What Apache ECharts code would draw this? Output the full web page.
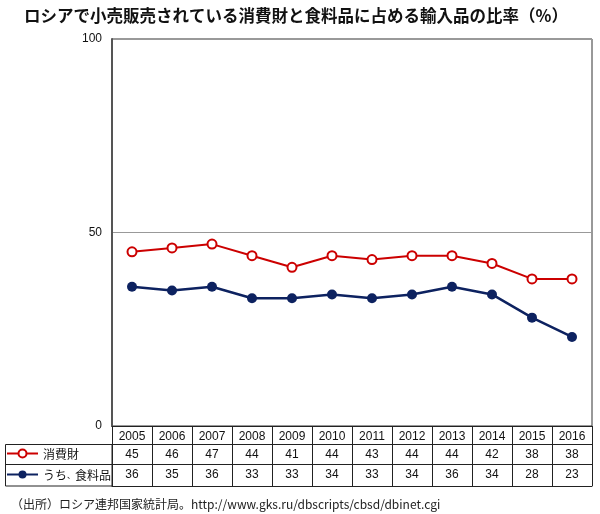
<!DOCTYPE html>
<html><head><meta charset="utf-8">
<script src="https://cdn.jsdelivr.net/npm/echarts@6/dist/echarts.min.js"></script>
<style>html,body{margin:0;padding:0;background:#fff}#c{width:600px;height:514px}</style>
</head><body><div id="c"></div>
<script>
const years = ['2005','2006','2007','2008','2009','2010','2011','2012','2013','2014','2015','2016'];
const consumerGoods = [45,46,47,44,41,44,43,44,44,42,38,38];
const foodProducts = [36,35,36,33,33,34,33,34,36,34,28,23];
const seriesNames = ['消費財','うち、食料品'];
const yTicks = [0,50,100];
const titleText = 'ロシアで小売販売されている消費財と食料品に占める輸入品の比率（%）';
const sourceText = '（出所）ロシア連邦国家統計局。http://www.gks.ru/dbscripts/cbsd/dbinet.cgi';

const JP = '"Noto Sans CJK JP", sans-serif';
const NUM = '"Liberation Sans", Arial, sans-serif';
const chart = echarts.init(document.getElementById('c'), null, {renderer:'canvas'});
const tableLine = {show:true, lineStyle:{color:'#222', width:1}};
function rowAxis(offset, values) {
  return {
    type:'category', data: years, position:'bottom', offset: offset, gridIndex:0,
    axisLine: tableLine, axisTick:{show:false},
    axisLabel:{show: !!values, margin: 5, fontSize:12, color:'#111', fontFamily: NUM,
      formatter: (v, i) => values ? String(values[i]) : ''},
    splitLine:{show:false}
  };
}
chart.setOption({
  animation:false,
  title:[
    {text: titleText, left: 19, top: 2, textStyle:{fontSize:16.5, fontWeight:'bold', color:'#111', fontFamily: JP}},
    {text: sourceText, left: 6, top: 493, textStyle:{fontSize:12, fontWeight:'normal', color:'#222', fontFamily: JP}}
  ],
  grid:{left:112, right:8, top:39, bottom:88, show:true, borderColor:'#333', borderWidth:1, backgroundColor:'#fff'},
  legend:{
    orient:'vertical', left:1, top:446, itemGap:6, itemWidth:31, itemHeight:10, padding:[0,5],
    data: seriesNames,
    formatter: name => '{n|' + name.replace('、', '}{c|、}{n|') + '}',
    textStyle:{fontSize:12, color:'#111', fontFamily: JP, lineHeight:14, padding:[1,0,0,0],
      rich:{n:{fontSize:12, color:'#111', fontFamily: JP, lineHeight:14},
            c:{fontSize:8, color:'#111', fontFamily: JP, lineHeight:14}}}
  },
  xAxis:[
    {type:'category', data: years, boundaryGap:true,
      axisLine: tableLine,
      axisTick:{show:true, length:60, lineStyle:{color:'#222', width:1}},
      axisLabel:{margin:5, fontSize:12, color:'#111', fontFamily: NUM},
      splitLine:{show:false}},
    rowAxis(18, consumerGoods),
    rowAxis(38, foodProducts),
    rowAxis(60, null)
  ],
  yAxis:{
    type:'value', min:0, max:100, interval:50,
    axisLine:{show:true, lineStyle:{color:'#555', width:2}},
    axisTick:{show:false},
    axisLabel:{fontSize:12, color:'#111', fontFamily: NUM, margin:10},
    splitLine:{show:true, lineStyle:{color:'#999', width:1}}
  },
  graphic:[
    {type:'rect', shape:{x:5.5, y:444.5, width:106.5, height:41.5}, style:{fill:'none', stroke:'#222', lineWidth:1}, z:10},
    {type:'line', shape:{x1:5.5, y1:464.5, x2:112, y2:464.5}, style:{stroke:'#222', lineWidth:1}, z:10}
  ],
  series:[
    {name: seriesNames[0], type:'line', data: consumerGoods, xAxisIndex:0,
      symbol:'emptyCircle', symbolSize:9, showAllSymbol:true,
      lineStyle:{color:'#cc0000', width:2},
      itemStyle:{color:'#cc0000', borderColor:'#cc0000', borderWidth:1.5}},
    {name: seriesNames[1], type:'line', data: foodProducts, xAxisIndex:0,
      symbol:'circle', symbolSize:10, showAllSymbol:true,
      lineStyle:{color:'#0d2260', width:2.5},
      itemStyle:{color:'#0d2260'}}
  ]
});
</script></body></html>
